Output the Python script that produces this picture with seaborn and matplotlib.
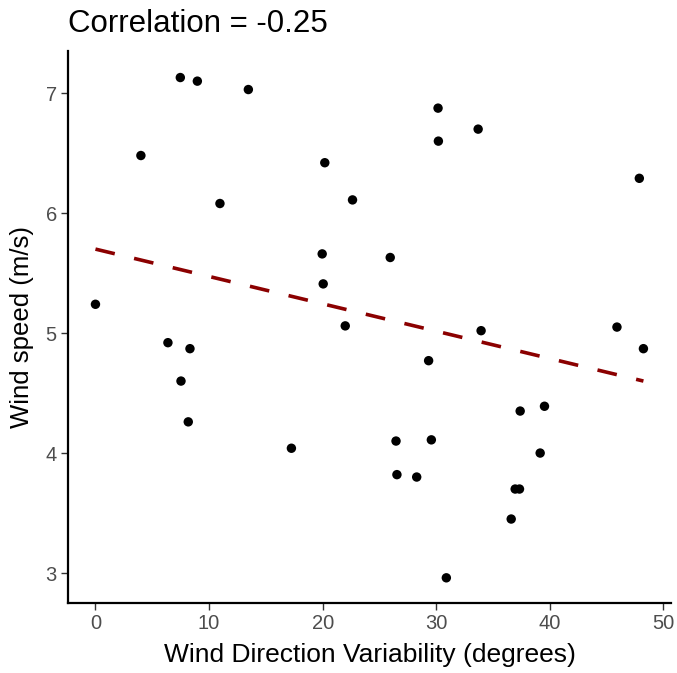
import matplotlib
matplotlib.use("Agg")
import matplotlib.pyplot as plt
import seaborn as sns
import pandas as pd
import numpy as np

wind_dir_var = [7.47, 8.97, 13.46, 4.0, 20.19, 10.96, 22.63, 19.96, 20.05, 0.0, 21.99,
                30.16, 33.69, 30.19, 47.88, 25.95,
                6.38, 8.32, 7.53, 8.17, 17.25,
                33.95, 45.91, 48.24, 29.33, 37.39, 39.53, 26.46, 29.57, 39.15,
                26.54, 28.28, 36.95, 37.33, 36.6, 30.89]
wind_speed = [7.13, 7.10, 7.03, 6.48, 6.42, 6.08, 6.11, 5.66, 5.41, 5.24, 5.06,
              6.875, 6.70, 6.60, 6.29, 5.63,
              4.92, 4.87, 4.60, 4.26, 4.04,
              5.02, 5.05, 4.87, 4.77, 4.35, 4.39, 4.10, 4.11, 4.00,
              3.82, 3.80, 3.70, 3.70, 3.45, 2.96]
# linear fit as drawn in the reference
fit_intercept = 5.70
fit_slope = -0.0228
x_ticks = [0, 10, 20, 30, 40, 50]
y_ticks = [3, 4, 5, 6, 7]
title_text = "Correlation = -0.25"

df = pd.DataFrame({"x": wind_dir_var, "y": wind_speed})
fit_x = np.array([df["x"].min(), df["x"].max()])
fit_df = pd.DataFrame({"x": fit_x, "y": fit_intercept + fit_slope * fit_x})

sns.set_style("white")
plt.rcParams["font.family"] = ["Liberation Sans", "DejaVu Sans"]

fig = plt.figure(figsize=(6.77, 6.73), dpi=100)
ax = fig.add_axes([0.1004, 0.104, 0.8906, 0.820])

sns.lineplot(data=fit_df, x="x", y="y", ax=ax, color="#8B0000", lw=2.6,
             linestyle=(0, (5.5, 5.5)), zorder=2)
sns.scatterplot(data=df, x="x", y="y", ax=ax, s=46, color="black",
                edgecolor="none", alpha=1, zorder=3)

ax.set_xlim(-2.42, 50.66)
ax.set_ylim(2.75, 7.35)
ax.set_xticks(x_ticks)
ax.set_yticks(y_ticks)
ax.set_xlabel("Wind Direction Variability (degrees)", fontsize=19, color="black", labelpad=7)
ax.set_ylabel("Wind speed (m/s)", fontsize=18.5, color="black", labelpad=8)
ax.tick_params(axis="both", labelsize=14.5, labelcolor="#4d4d4d", color="#333333",
               length=5, width=1, direction="out", bottom=True, left=True, pad=3)
for side in ["top", "right"]:
    ax.spines[side].set_visible(False)
for side in ["left", "bottom"]:
    ax.spines[side].set_color("black")
    ax.spines[side].set_linewidth(1.6)
ax.set_title(title_text, loc="left", fontsize=22.5, color="black", pad=14, x=0.0)

fig.savefig("out.png", dpi=100)
